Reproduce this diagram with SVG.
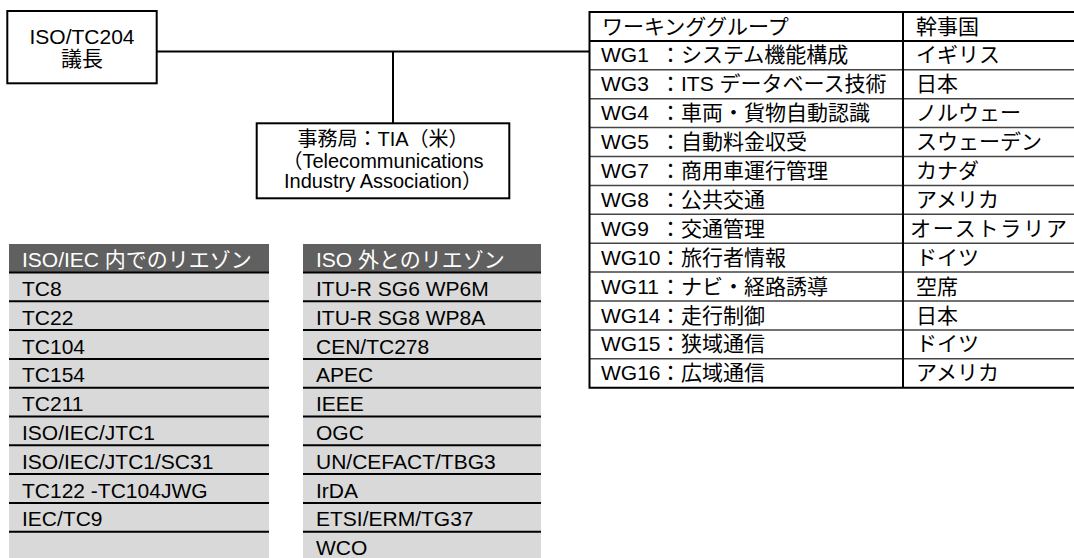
<svg xmlns="http://www.w3.org/2000/svg" width="1074" height="558" viewBox="0 0 1074 558">
<style>
text{font-family:"Liberation Sans","Noto Sans CJK JP",sans-serif;font-size:21px;fill:#000}
.s{font-size:20px}
.w{fill:#fff}
.m{text-anchor:middle}
.box{fill:#fff;stroke:#000;stroke-width:2}
.conn{fill:none;stroke:#000;stroke-width:2}
.hd{fill:#606060}
.bd{fill:#d9d9d9}
.ln{stroke:#000;stroke-width:2}
.rl{stroke:#444;stroke-width:1.5}
.tb{fill:none;stroke:#000;stroke-width:2}
</style>
<rect width="1074" height="558" fill="#fff"/>
<g id="connectors">
<path class="conn" d="M157 51.5H589.5M393 51.5V123.3"/>
</g>
<g id="chair">
<rect class="box" x="7.3" y="11" width="149.4" height="72.3"/>
<text class="m" x="82" y="44">ISO/TC204</text>
<text class="m" x="82" y="66">議長</text>
</g>
<g id="secretariat">
<rect class="box" x="256.7" y="123.3" width="252.6" height="75"/>
<text class="s m" x="383" y="146">事務局：TIA（米）</text>
<text class="s m" x="383" y="167.5">（Telecommunications</text>
<text class="s m" x="383" y="188">Industry Association）</text>
</g>
<g id="wg-table">
<path class="rl" d="M589.5 69.8H1074M589.5 98.7H1074M589.5 127.6H1074M589.5 156.5H1074M589.5 185.4H1074M589.5 214.3H1074M589.5 243.2H1074M589.5 272.1H1074M589.5 301H1074M589.5 329.9H1074M589.5 358.8H1074"/>
<path class="tb" d="M1074 12H589.5V387.7H1074M589.5 40.9H1074M903 12V387.7"/>
<text x="602" y="33.5">ワーキンググループ</text>
<text x="916" y="33.5">幹事国</text>
<text x="601" y="62.4">WG1 </text><text x="660" y="62.4">：</text><text x="681" y="62.4">システム機能構成</text><text x="916" y="62.4">イギリス</text>
<text x="601" y="91.3">WG3 </text><text x="660" y="91.3">：</text><text x="681" y="91.3">ITS データベース技術</text><text x="916" y="91.3">日本</text>
<text x="601" y="120.2">WG4 </text><text x="660" y="120.2">：</text><text x="681" y="120.2">車両・貨物自動認識</text><text x="916" y="120.2">ノルウェー</text>
<text x="601" y="149.1">WG5 </text><text x="660" y="149.1">：</text><text x="681" y="149.1">自動料金収受</text><text x="916" y="149.1">スウェーデン</text>
<text x="601" y="178">WG7 </text><text x="660" y="178">：</text><text x="681" y="178">商用車運行管理</text><text x="916" y="178">カナダ</text>
<text x="601" y="206.9">WG8 </text><text x="660" y="206.9">：</text><text x="681" y="206.9">公共交通</text><text x="916" y="206.9">アメリカ</text>
<text x="601" y="235.8">WG9 </text><text x="660" y="235.8">：</text><text x="681" y="235.8">交通管理</text><text x="910" y="235.8" textLength="157" lengthAdjust="spacing">オーストラリア</text>
<text x="601" y="264.7">WG10</text><text x="660" y="264.7">：</text><text x="681" y="264.7">旅行者情報</text><text x="916" y="264.7">ドイツ</text>
<text x="601" y="293.6">WG11</text><text x="660" y="293.6">：</text><text x="681" y="293.6">ナビ・経路誘導</text><text x="916" y="293.6">空席</text>
<text x="601" y="322.5">WG14</text><text x="660" y="322.5">：</text><text x="681" y="322.5">走行制御</text><text x="916" y="322.5">日本</text>
<text x="601" y="351.4">WG15</text><text x="660" y="351.4">：</text><text x="681" y="351.4">狭域通信</text><text x="916" y="351.4">ドイツ</text>
<text x="601" y="380.3">WG16</text><text x="660" y="380.3">：</text><text x="681" y="380.3">広域通信</text><text x="916" y="380.3">アメリカ</text>
</g>
<g id="liaison-internal">
<rect class="hd" x="9" y="244" width="260" height="28.5"/>
<rect class="bd" x="9" y="272.5" width="260" height="285.5"/>
<path class="ln" d="M9 272.5H269M9 301.3H269M9 330.1H269M9 358.9H269M9 387.7H269M9 416.5H269M9 445.3H269M9 474.1H269M9 502.9H269M9 531.7H269"/>
<text class="w" x="22" y="267">ISO/IEC 内でのリエゾン</text>
<text x="22" y="296">TC8</text>
<text x="22" y="324.8">TC22</text>
<text x="22" y="353.6">TC104</text>
<text x="22" y="382.4">TC154</text>
<text x="22" y="411.2">TC211</text>
<text x="22" y="440">ISO/IEC/JTC1</text>
<text x="22" y="468.8">ISO/IEC/JTC1/SC31</text>
<text x="22" y="497.6">TC122 -TC104JWG</text>
<text x="22" y="526.4">IEC/TC9</text>
</g>
<g id="liaison-external">
<rect class="hd" x="303" y="244" width="238" height="28.5"/>
<rect class="bd" x="303" y="272.5" width="238" height="285.5"/>
<path class="ln" d="M303 272.5H541M303 301.3H541M303 330.1H541M303 358.9H541M303 387.7H541M303 416.5H541M303 445.3H541M303 474.1H541M303 502.9H541M303 531.7H541"/>
<text class="w" x="316" y="267">ISO 外とのリエゾン</text>
<text x="316" y="296">ITU-R SG6 WP6M</text>
<text x="316" y="324.8">ITU-R SG8 WP8A</text>
<text x="316" y="353.6">CEN/TC278</text>
<text x="316" y="382.4">APEC</text>
<text x="316" y="411.2">IEEE</text>
<text x="316" y="440">OGC</text>
<text x="316" y="468.8">UN/CEFACT/TBG3</text>
<text x="316" y="497.6">IrDA</text>
<text x="316" y="526.4">ETSI/ERM/TG37</text>
<text x="316" y="555.2">WCO</text>
</g>
</svg>
